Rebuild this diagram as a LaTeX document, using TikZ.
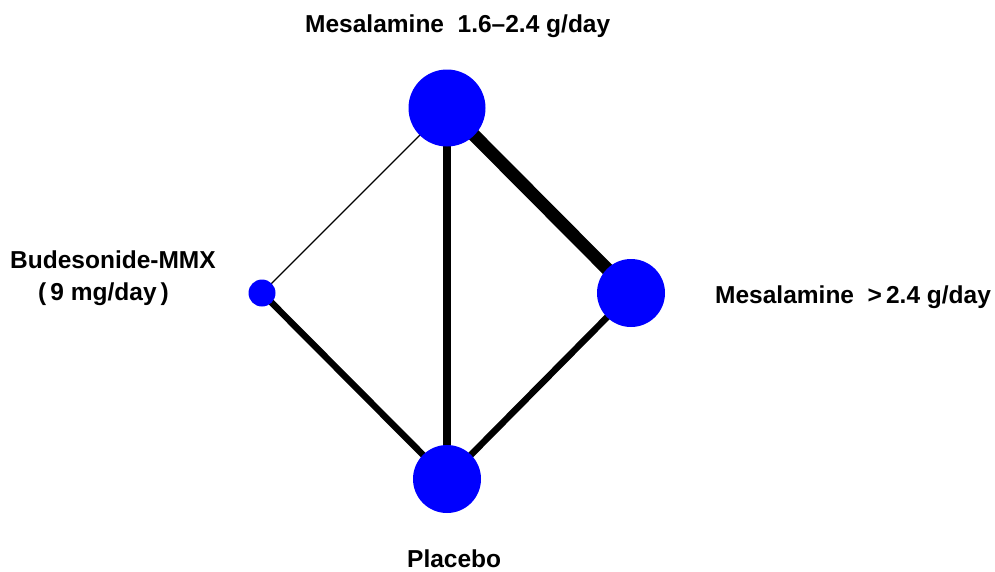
\documentclass[tikz,border=0pt]{standalone}
\usepackage{fontspec}
\setmainfont{Liberation Sans}
\usetikzlibrary{backgrounds}
\definecolor{nodeblue}{RGB}{0,0,255}
\begin{document}
\begin{tikzpicture}[x=1pt,y=-1pt,
  trt/.style={circle,fill=nodeblue,draw=none,inner sep=0pt},
  lbl/.style={inner sep=0pt,anchor=base west,font=\fontsize{24.5}{29}\selectfont\bfseries},
  edge/.style={draw=black,line cap=butt}]
\useasboundingbox (0,0) rectangle (995,571);
\node[trt,minimum size=77] (mes16) at (447,108) {};
\node[trt,minimum size=27] (bud) at (262,293) {};
\node[trt,minimum size=68] (mes24) at (631,293) {};
\node[trt,minimum size=68] (pla) at (447,479) {};
\begin{scope}[on background layer]
\draw[edge,line width=1.3] (mes16.center) -- (bud.center);
\draw[edge,line width=8] (mes16.center) -- (pla.center);
\draw[edge,line width=13] (mes16.center) -- (mes24.center);
\draw[edge,line width=6.5] (bud.center) -- (pla.center);
\draw[edge,line width=6.5] (mes24.center) -- (pla.center);
\end{scope}
\node[lbl] (lmes16) at (305,32) {Mesalamine\ \ 1.6–2.4 g/day};
\node[lbl] (lbud1) at (10,268) {Budesonide-MMX};
\node[lbl] (lbud2) at (38,300) {(\,9 mg/day\,)};
\node[lbl] (lmes24) at (715,303) {Mesalamine\ \ >\,2.4 g/day};
\node[lbl] (lpla) at (407,567) {Placebo};
\end{tikzpicture}
\end{document}
